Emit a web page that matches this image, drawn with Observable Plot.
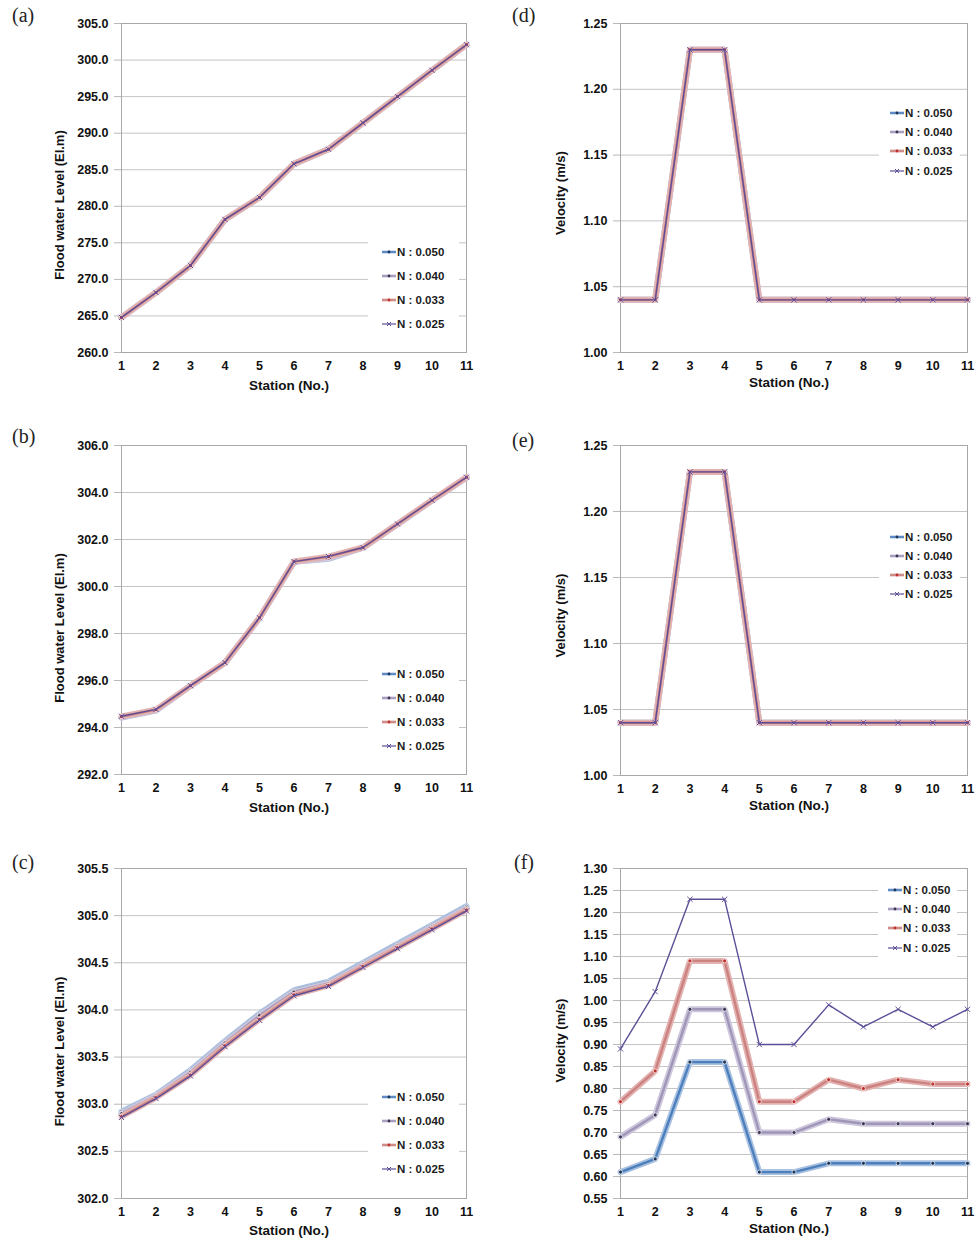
<!DOCTYPE html>
<html><head><meta charset="utf-8">
<script src="https://cdn.jsdelivr.net/npm/d3@7"></script>
<script src="https://cdn.jsdelivr.net/npm/@observablehq/plot@0.6"></script>
<style>
html,body{margin:0;padding:0;background:#fff;}
body{width:980px;height:1250px;position:relative;overflow:hidden;font-family:"Liberation Sans",Arial,sans-serif;}
.panel{position:absolute;}
.tag{position:absolute;font-family:"Liberation Serif","DejaVu Serif",serif;font-size:20px;line-height:20px;color:#222;}
.legend{position:absolute;background:#fff;font-size:11.5px;font-weight:bold;color:#1a1a1a;}
.legend .row{position:absolute;display:flex;align-items:center;height:14px;white-space:nowrap;}
.legend svg{margin-right:1px;}
</style></head>
<body>
<div id="root"></div>
<script>
// ---------- data ----------
const stations = [1, 2, 3, 4, 5, 6, 7, 8, 9, 10, 11];
const seriesNames = ["N : 0.050", "N : 0.040", "N : 0.033", "N : 0.025"];

// (a) flood water level
const levelA_050 = [264.8, 268.2, 271.9, 278.2, 281.2, 285.8, 287.8, 291.4, 295.0, 298.6, 302.1];
const levelA_040 = [264.8, 268.2, 271.9, 278.2, 281.2, 285.8, 287.8, 291.4, 295.0, 298.6, 302.1];
const levelA_033 = [264.8, 268.2, 271.9, 278.2, 281.2, 285.8, 287.8, 291.4, 295.0, 298.6, 302.1];
const levelA_025 = [264.8, 268.2, 271.9, 278.2, 281.2, 285.8, 287.8, 291.4, 295.0, 298.6, 302.1];
const ticksA = [260, 265, 270, 275, 280, 285, 290, 295, 300, 305];

// (b) flood water level
const levelB_050 = [294.42, 294.72, 295.77, 296.75, 298.66, 301.05, 301.18, 301.65, 302.65, 303.66, 304.64];
const levelB_040 = [294.43, 294.73, 295.77, 296.75, 298.66, 301.05, 301.20, 301.65, 302.65, 303.66, 304.64];
const levelB_033 = [294.47, 294.76, 295.78, 296.76, 298.67, 301.06, 301.27, 301.66, 302.66, 303.67, 304.65];
const levelB_025 = [294.48, 294.77, 295.78, 296.76, 298.67, 301.06, 301.28, 301.66, 302.66, 303.67, 304.65];
const ticksB = [292, 294, 296, 298, 300, 302, 304, 306];

// (c) flood water level
const levelC_050 = [302.92, 303.10, 303.36, 303.67, 303.96, 304.21, 304.30, 304.50, 304.70, 304.90, 305.10];
const levelC_040 = [302.90, 303.09, 303.34, 303.65, 303.94, 304.19, 304.28, 304.48, 304.68, 304.88, 305.08];
const levelC_033 = [302.87, 303.07, 303.31, 303.62, 303.90, 304.16, 304.26, 304.46, 304.66, 304.86, 305.06];
const levelC_025 = [302.86, 303.06, 303.30, 303.61, 303.89, 304.15, 304.25, 304.45, 304.65, 304.85, 305.05];
const ticksC = [302.0, 302.5, 303.0, 303.5, 304.0, 304.5, 305.0, 305.5];

// (d) velocity
const velD_050 = [1.04, 1.04, 1.23, 1.23, 1.04, 1.04, 1.04, 1.04, 1.04, 1.04, 1.04];
const velD_040 = [1.04, 1.04, 1.23, 1.23, 1.04, 1.04, 1.04, 1.04, 1.04, 1.04, 1.04];
const velD_033 = [1.04, 1.04, 1.23, 1.23, 1.04, 1.04, 1.04, 1.04, 1.04, 1.04, 1.04];
const velD_025 = [1.04, 1.04, 1.23, 1.23, 1.04, 1.04, 1.04, 1.04, 1.04, 1.04, 1.04];
const ticksD = [1.00, 1.05, 1.10, 1.15, 1.20, 1.25];

// (e) velocity
const velE_050 = [1.04, 1.04, 1.23, 1.23, 1.04, 1.04, 1.04, 1.04, 1.04, 1.04, 1.04];
const velE_040 = [1.04, 1.04, 1.23, 1.23, 1.04, 1.04, 1.04, 1.04, 1.04, 1.04, 1.04];
const velE_033 = [1.04, 1.04, 1.23, 1.23, 1.04, 1.04, 1.04, 1.04, 1.04, 1.04, 1.04];
const velE_025 = [1.04, 1.04, 1.23, 1.23, 1.04, 1.04, 1.04, 1.04, 1.04, 1.04, 1.04];
const ticksE = [1.00, 1.05, 1.10, 1.15, 1.20, 1.25];

// (f) velocity
const velF_050 = [0.61, 0.64, 0.86, 0.86, 0.61, 0.61, 0.63, 0.63, 0.63, 0.63, 0.63];
const velF_040 = [0.69, 0.74, 0.98, 0.98, 0.70, 0.70, 0.73, 0.72, 0.72, 0.72, 0.72];
const velF_033 = [0.77, 0.84, 1.09, 1.09, 0.77, 0.77, 0.82, 0.80, 0.82, 0.81, 0.81];
const velF_025 = [0.89, 1.02, 1.23, 1.23, 0.90, 0.90, 0.99, 0.94, 0.98, 0.94, 0.98];
const ticksF = [0.55, 0.60, 0.65, 0.70, 0.75, 0.80, 0.85, 0.90, 0.95, 1.00, 1.05, 1.10, 1.15, 1.20, 1.25, 1.30];

const levelLabel = "Flood water Level (El.m)";
const velLabel = "Velocity (m/s)";
const stationLabel = "Station (No.)";

// ---------- styles ----------
const seriesStyle = [
  {glow: "#a9c1e0", core: "#4d7fbd", dot: "#1d3558", sym: "dot"},
  {glow: "#cdc6dc", core: "#a096b8", dot: "#3b3456", sym: "dot"},
  {glow: "#e2b3b1", core: "#cc8280", dot: "#c0302c", sym: "dot"},
  {glow: null, core: "#5e4e98", dot: "#5e4e98", sym: "times"}
];

const panels = [
  {tag: "(a)", values: [levelA_050, levelA_040, levelA_033, levelA_025], ticks: ticksA, fmt: d => d.toFixed(1), ylabel: levelLabel,
   left: 0, top: 0, w: 490, h: 420, m: [23, 24, 68, 121], ydx: -61.5, ydy: 17, xdy: 33,
   tagPos: [12, 5], legend: {left: 368, top: 237, w: 91, h: 100, y0: 14.7, step: 24, sx: 14}},
  {tag: "(b)", values: [levelB_050, levelB_040, levelB_033, levelB_025], ticks: ticksB, fmt: d => d.toFixed(1), ylabel: levelLabel,
   left: 0, top: 420, w: 490, h: 420, m: [25, 24, 66, 121], ydx: -61.5, ydy: 18, xdy: 33.5,
   tagPos: [12, 426], legend: {left: 368, top: 659, w: 91, h: 100, y0: 14.7, step: 24, sx: 14}},
  {tag: "(c)", values: [levelC_050, levelC_040, levelC_033, levelC_025], ticks: ticksC, fmt: d => d.toFixed(1), ylabel: levelLabel,
   left: 0, top: 840, w: 490, h: 410, m: [28, 24, 52, 121], ydx: -61.5, ydy: 18, xdy: 32,
   tagPos: [12, 852], legend: {left: 368, top: 1082, w: 91, h: 100, y0: 14.7, step: 24, sx: 14}},
  {tag: "(d)", values: [velD_050, velD_040, velD_033, velD_025], ticks: ticksD, fmt: d => d.toFixed(2), ylabel: velLabel,
   left: 490, top: 0, w: 490, h: 420, m: [23, 13, 68, 130], ydx: -60, ydy: 5, xdy: 30,
   tagPos: [512, 5], legend: {left: 879, top: 100, w: 81, h: 84, y0: 13, step: 19.2, sx: 11}},
  {tag: "(e)", values: [velE_050, velE_040, velE_033, velE_025], ticks: ticksE, fmt: d => d.toFixed(2), ylabel: velLabel,
   left: 490, top: 420, w: 490, h: 420, m: [25, 13, 65, 130], ydx: -60, ydy: 5, xdy: 30,
   tagPos: [512, 430], legend: {left: 879, top: 524, w: 81, h: 84, y0: 12.7, step: 19, sx: 11}},
  {tag: "(f)", values: [velF_050, velF_040, velF_033, velF_025], ticks: ticksF, fmt: d => d.toFixed(2), ylabel: velLabel,
   left: 490, top: 840, w: 490, h: 410, m: [28, 13, 52, 130], ydx: -60, ydy: 7, xdy: 30,
   tagPos: [514, 852], legend: {left: 878, top: 878, w: 79, h: 80, y0: 12, step: 19.2, sx: 10}}
];

const root = document.getElementById("root");

function swatch(st) {
  const ns = "http://www.w3.org/2000/svg";
  const svg = document.createElementNS(ns, "svg");
  svg.setAttribute("width", 14); svg.setAttribute("height", 10);
  if (st.glow) {
    const g = document.createElementNS(ns, "line");
    g.setAttribute("x1", 0); g.setAttribute("x2", 14); g.setAttribute("y1", 5); g.setAttribute("y2", 5);
    g.setAttribute("stroke", st.glow); g.setAttribute("stroke-width", 3);
    svg.appendChild(g);
  }
  const l = document.createElementNS(ns, "line");
  l.setAttribute("x1", 0); l.setAttribute("x2", 14); l.setAttribute("y1", 5); l.setAttribute("y2", 5);
  l.setAttribute("stroke", st.core); l.setAttribute("stroke-width", st.glow ? 1.6 : 1.2);
  svg.appendChild(l);
  if (st.sym === "dot") {
    const c = document.createElementNS(ns, "circle");
    c.setAttribute("cx", 7); c.setAttribute("cy", 5); c.setAttribute("r", 1.4);
    c.setAttribute("fill", st.dot);
    svg.appendChild(c);
  } else {
    const p = document.createElementNS(ns, "path");
    p.setAttribute("d", "M5,3L9,7M9,3L5,7");
    p.setAttribute("stroke", st.dot); p.setAttribute("stroke-width", 1);
    svg.appendChild(p);
  }
  return svg;
}

for (const p of panels) {
  const marks = [
    Plot.gridY(p.ticks, {stroke: "#c4c4c4", strokeOpacity: 1, strokeWidth: 1}),
    Plot.frame({stroke: "#a8a8a8", strokeWidth: 1}),
    Plot.axisY(p.ticks, {tickFormat: p.fmt, tickSize: 7, tickPadding: 6, stroke: "#b8b8b8", fill: "#111",
      fontSize: 12.5, fontWeight: "bold", label: null}),
    Plot.axisX(stations, {tickFormat: d => String(d), tickSize: 0, tickPadding: 9, fill: "#111",
      fontSize: 12.5, fontWeight: "bold", label: null})
  ];
  seriesNames.forEach((name, si) => {
    const st = seriesStyle[si];
    const rows = stations.map((s, i) => ({station: s, value: p.values[si][i], series: name}));
    if (st.glow) {
      marks.push(Plot.line(rows, {x: "station", y: "value", stroke: st.glow, strokeWidth: 6, strokeLinejoin: "round"}));
      marks.push(Plot.line(rows, {x: "station", y: "value", stroke: st.core, strokeWidth: 2.4, strokeLinejoin: "round"}));
      marks.push(Plot.dot(rows, {x: "station", y: "value", r: 2, fill: st.dot, stroke: "#fff", strokeWidth: 0.7}));
    } else {
      marks.push(Plot.line(rows, {x: "station", y: "value", stroke: st.core, strokeWidth: 1.4}));
      marks.push(Plot.dot(rows, {x: "station", y: "value", r: 2.5, symbol: "times", stroke: st.core, strokeWidth: 1}));
    }
  });
  marks.push(Plot.text([p.ylabel], {text: d => d, frameAnchor: "left", textAnchor: "middle", lineAnchor: "middle",
    rotate: -90, dx: p.ydx, dy: p.ydy, fontSize: 13, fontWeight: "bold", fill: "#111"}));
  marks.push(Plot.text([stationLabel], {text: d => d, frameAnchor: "bottom", textAnchor: "middle", lineAnchor: "middle",
    dx: -5, dy: p.xdy, fontSize: 13.5, fontWeight: "bold", fill: "#111"}));

  const chart = Plot.plot({
    width: p.w, height: p.h,
    marginTop: p.m[0], marginRight: p.m[1], marginBottom: p.m[2], marginLeft: p.m[3],
    x: {domain: [1, 11]},
    y: {domain: [p.ticks[0], p.ticks[p.ticks.length - 1]]},
    style: {fontFamily: "'Liberation Sans', Arial, sans-serif", background: "transparent", color: "#111", overflow: "visible"},
    marks
  });
  const wrap = document.createElement("div");
  wrap.className = "panel";
  wrap.style.left = p.left + "px"; wrap.style.top = p.top + "px";
  wrap.appendChild(chart);
  root.appendChild(wrap);

  const tag = document.createElement("div");
  tag.className = "tag";
  tag.textContent = p.tag;
  tag.style.left = p.tagPos[0] + "px"; tag.style.top = p.tagPos[1] + "px";
  root.appendChild(tag);

  const lg = document.createElement("div");
  lg.className = "legend";
  lg.style.left = p.legend.left + "px"; lg.style.top = p.legend.top + "px";
  lg.style.width = p.legend.w + "px"; lg.style.height = p.legend.h + "px";
  seriesNames.forEach((name, si) => {
    const row = document.createElement("div");
    row.className = "row";
    row.style.left = p.legend.sx + "px";
    row.style.top = (p.legend.y0 + si * p.legend.step - 7) + "px";
    row.appendChild(swatch(seriesStyle[si]));
    const t = document.createElement("span");
    t.textContent = name;
    row.appendChild(t);
    lg.appendChild(row);
  });
  root.appendChild(lg);
}
</script>
</body></html>
